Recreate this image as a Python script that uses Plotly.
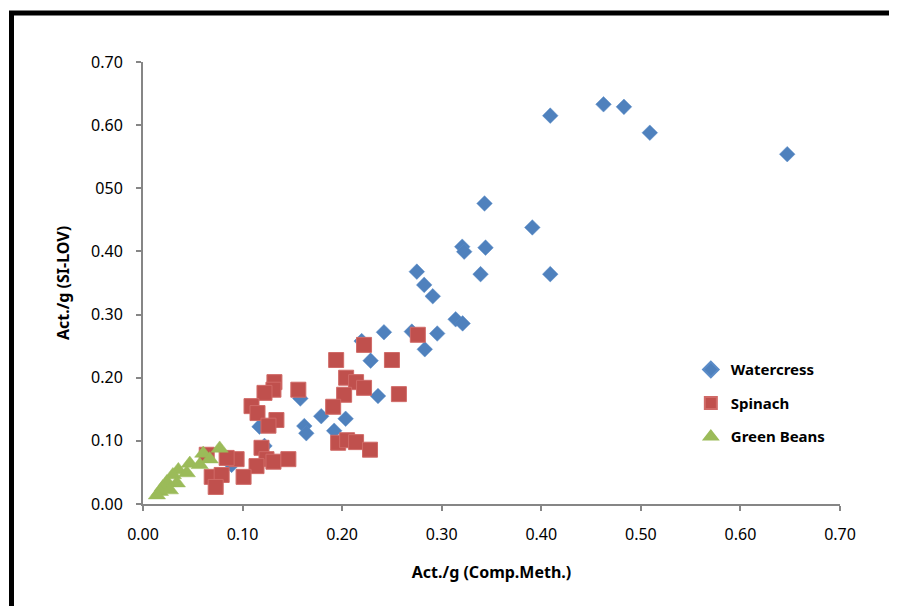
import plotly.graph_objects as go

# Watercress
wc_x = [0.409, 0.4625, 0.483, 0.509, 0.647, 0.343, 0.391, 0.3206, 0.3226, 0.344, 0.275, 0.339, 0.409,
        0.2824, 0.291, 0.314, 0.321, 0.242, 0.270, 0.2955, 0.283, 0.2196, 0.2286, 0.236, 0.158, 0.179,
        0.2035, 0.162, 0.164, 0.192, 0.117, 0.122, 0.089]
wc_y = [0.615, 0.633, 0.629, 0.588, 0.554, 0.476, 0.438, 0.4075, 0.3996, 0.406, 0.368, 0.364, 0.364,
        0.347, 0.329, 0.2925, 0.286, 0.272, 0.273, 0.270, 0.245, 0.258, 0.227, 0.171, 0.167, 0.139,
        0.135, 0.1235, 0.112, 0.116, 0.1225, 0.092, 0.062]

# Spinach
sp_x = [0.276, 0.222, 0.194, 0.250, 0.204, 0.214, 0.222, 0.202, 0.257, 0.191, 0.156, 0.132, 0.131,
        0.122, 0.109, 0.115, 0.134, 0.126, 0.196, 0.205, 0.214, 0.228, 0.119, 0.124, 0.131, 0.146,
        0.114, 0.101, 0.094, 0.084, 0.064, 0.069, 0.079, 0.073]
sp_y = [0.268, 0.252, 0.228, 0.228, 0.200, 0.193, 0.184, 0.173, 0.174, 0.154, 0.181, 0.193, 0.181,
        0.176, 0.155, 0.144, 0.133, 0.124, 0.097, 0.101, 0.098, 0.086, 0.089, 0.071, 0.067, 0.071,
        0.060, 0.043, 0.071, 0.073, 0.078, 0.043, 0.046, 0.027]

# Green Beans
gb_x = [0.077, 0.0605, 0.067, 0.047, 0.057, 0.0355, 0.044, 0.030, 0.034, 0.024, 0.020, 0.017, 0.014, 0.027]
gb_y = [0.088, 0.080, 0.071, 0.064, 0.062, 0.054, 0.049, 0.046, 0.033, 0.035, 0.027, 0.0195, 0.014, 0.022]

tick_vals = [0.0, 0.1, 0.2, 0.3, 0.4, 0.5, 0.6, 0.7]
x_tick_text = ["0.00", "0.10", "0.20", "0.30", "0.40", "0.50", "0.60", "0.70"]
y_tick_text = ["0.00", "0.10", "0.20", "0.30", "0.40", "050", "0.60", "0.70"]

FONT = "Noto Sans"

# plot area in screen pixels (page has an 8px body offset)
OFF = 8
PL, PR, PT, PB = 143, 840, 62, 504
PW, PH = PR - PL, PB - PT

fig = go.Figure()
fig.add_trace(go.Scatter(x=wc_x, y=wc_y, mode="markers", name="<b>Watercress</b>", legendgroup="a",
                         marker=dict(symbol="diamond", size=12, color="#4F81BD",
                                     line=dict(color="#5B8CC8", width=0.5))))
fig.add_trace(go.Scatter(x=sp_x, y=sp_y, mode="markers", name="<b>Spinach</b>", legendgroup="b",
                         marker=dict(symbol="square", size=15, color="#C0504D",
                                     line=dict(color="#D06A67", width=1))))
fig.add_trace(go.Scatter(x=gb_x, y=gb_y, mode="markers", name="<b>Green Beans</b>", legendgroup="c",
                         marker=dict(symbol="triangle-up", size=15, color="#9BBB59",
                                     line=dict(color="#9BBB59", width=0.5))))

axis_common = dict(
    range=[0, 0.7], showgrid=False, zeroline=False, showline=True,
    linecolor="#868686", linewidth=2, ticks="outside", ticklen=5, tickwidth=2,
    tickcolor="#868686", tickvals=tick_vals,
    tickfont=dict(family=FONT, size=16, color="#000000"),
)

fig.update_layout(
    width=897, height=606,
    margin=dict(l=PL - OFF, r=897 + OFF - PR, t=PT - OFF, b=606 + OFF - PB),
    paper_bgcolor="white", plot_bgcolor="white",
    xaxis=dict(**axis_common, ticktext=x_tick_text, ticklabelstandoff=10,
               title=dict(text="<b>Act./g (Comp.Meth.)</b>", font=dict(family=FONT, size=16, color="#000000"),
                          standoff=23)),
    yaxis=dict(**axis_common, ticktext=y_tick_text, ticklabelstandoff=10,
               title=dict(text="<b>Act./g (SI-LOV)</b>", font=dict(family=FONT, size=16, color="#000000"),
                          standoff=17)),
    legend=dict(x=0.786, y=0.341, xanchor="left", yanchor="top", bgcolor="rgba(0,0,0,0)",
                font=dict(family=FONT, size=15, color="#000000"), tracegroupgap=11,
                traceorder="grouped", itemsizing="constant"),
    font=dict(family=FONT),
    shapes=[dict(type="rect", xref="paper", yref="paper",
                 x0=(11.5 - PL) / PW, x1=(910 - PL) / PW,
                 y0=(PB - 620) / PH, y1=(PB - 13) / PH,
                 line=dict(color="black", width=5), fillcolor="rgba(0,0,0,0)", layer="below")],
)

fig.write_html("out.html")
